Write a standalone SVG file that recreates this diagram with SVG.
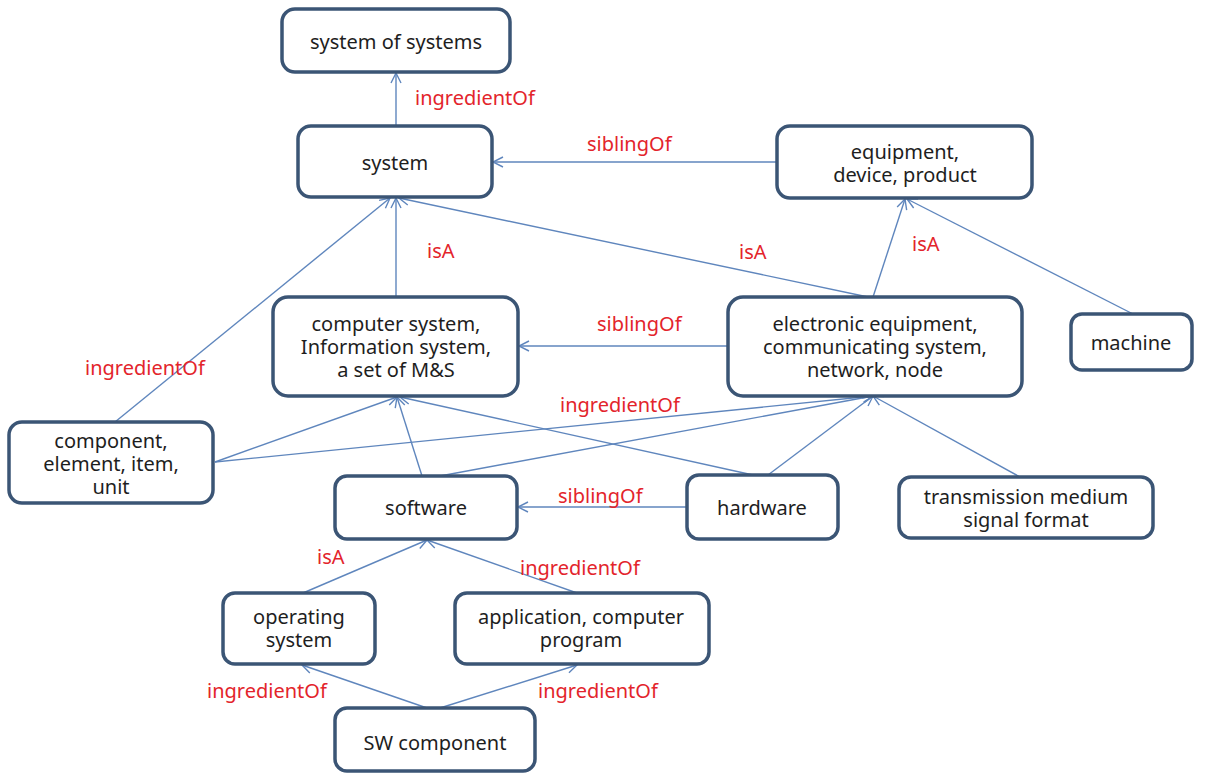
<svg xmlns="http://www.w3.org/2000/svg" width="1205" height="773" viewBox="0 0 1205 773">
<defs>
<style>
.box{fill:#ffffff;stroke:#3b5575;stroke-width:3.5}
.t{font-family:"Noto Sans","Open Sans",sans-serif;font-size:20px;fill:#1e1e1e;text-anchor:middle}
.lbl{font-family:"Noto Sans","Open Sans",sans-serif;font-size:20px;fill:#e3242b}
.c{stroke:#5f86bd;stroke-width:1.4;fill:none;marker-end:url(#ah)}
</style>
<marker id="ah" markerUnits="userSpaceOnUse" markerWidth="14" markerHeight="14" refX="11" refY="6" orient="auto">
<path d="M1,1 L11,6 L1,11" fill="none" stroke="#5f86bd" stroke-width="1.4"/>
</marker>
</defs>
<rect width="1205" height="773" fill="#ffffff"/>
<g id="connectors">
<line class="c" x1="396" y1="126" x2="396" y2="73"/>
<line class="c" x1="777" y1="162" x2="493" y2="162"/>
<line class="c" x1="868" y1="297" x2="399" y2="198"/>
<line class="c" x1="873" y1="297" x2="905" y2="199"/>
<line class="c" x1="1133" y1="314" x2="907" y2="199"/>
<line class="c" x1="396" y1="297" x2="396" y2="198"/>
<line class="c" x1="115" y1="422" x2="390" y2="198"/>
<line class="c" x1="728" y1="346" x2="519" y2="346"/>
<line class="c" x1="215" y1="462" x2="397" y2="397"/>
<line class="c" x1="215" y1="462" x2="873" y2="396"/>
<line class="c" x1="422" y1="476" x2="397" y2="397"/>
<line class="c" x1="440" y1="476" x2="873" y2="396"/>
<line class="c" x1="753" y1="475" x2="400" y2="397"/>
<line class="c" x1="768" y1="475" x2="873" y2="396"/>
<line class="c" x1="1020" y1="477" x2="873" y2="396"/>
<line class="c" x1="687" y1="507" x2="518" y2="507"/>
<line class="c" x1="303" y1="593" x2="427" y2="540"/>
<line class="c" x1="577" y1="593" x2="427" y2="540"/>
<line class="c" x1="427" y1="708" x2="302" y2="665"/>
<line class="c" x1="440" y1="708" x2="577" y2="665"/>
</g>
<g id="labels">
<text class="lbl" x="415" y="105">ingredientOf</text>
<text class="lbl" x="587" y="151">siblingOf</text>
<text class="lbl" x="739" y="259">isA</text>
<text class="lbl" x="912" y="251">isA</text>
<text class="lbl" x="427" y="258">isA</text>
<text class="lbl" x="85" y="375">ingredientOf</text>
<text class="lbl" x="597" y="331">siblingOf</text>
<text class="lbl" x="560" y="412">ingredientOf</text>
<text class="lbl" x="558" y="503">siblingOf</text>
<text class="lbl" x="317" y="564">isA</text>
<text class="lbl" x="520" y="575">ingredientOf</text>
<text class="lbl" x="207" y="698">ingredientOf</text>
<text class="lbl" x="538" y="698">ingredientOf</text>
</g>
<g id="n-sos"><rect class="box" x="282" y="9" width="228" height="63" rx="13"/><text class="t" x="396" y="49">system of systems</text></g>
<g id="n-system"><rect class="box" x="298" y="126" width="194" height="71" rx="13"/><text class="t" x="395" y="170">system</text></g>
<g id="n-equipment"><rect class="box" x="777" y="126" width="255" height="72" rx="13"/><text class="t" x="905" y="159">equipment,</text><text class="t" x="905" y="182">device, product</text></g>
<g id="n-computer"><rect class="box" x="273" y="297" width="245" height="99" rx="15"/><text class="t" x="396" y="331">computer system,</text><text class="t" x="396" y="354">Information system,</text><text class="t" x="396" y="377">a set of M&amp;S</text></g>
<g id="n-electronic"><rect class="box" x="728" y="297" width="294" height="99" rx="15"/><text class="t" x="875" y="331">electronic equipment,</text><text class="t" x="875" y="354">communicating system,</text><text class="t" x="875" y="377">network, node</text></g>
<g id="n-machine"><rect class="box" x="1071" y="314" width="121" height="56" rx="11"/><text class="t" x="1131" y="350">machine</text></g>
<g id="n-component"><rect class="box" x="9" y="422" width="204" height="81" rx="13"/><text class="t" x="111" y="448">component,</text><text class="t" x="111" y="471">element, item,</text><text class="t" x="111" y="494">unit</text></g>
<g id="n-software"><rect class="box" x="335" y="476" width="182" height="63" rx="12"/><text class="t" x="426" y="515">software</text></g>
<g id="n-hardware"><rect class="box" x="687" y="475" width="151" height="64" rx="12"/><text class="t" x="762" y="515">hardware</text></g>
<g id="n-transmission"><rect class="box" x="899" y="477" width="254" height="61" rx="12"/><text class="t" x="1026" y="504">transmission medium</text><text class="t" x="1026" y="527">signal format</text></g>
<g id="n-os"><rect class="box" x="223" y="593" width="152" height="71" rx="12"/><text class="t" x="299" y="624">operating</text><text class="t" x="299" y="647">system</text></g>
<g id="n-app"><rect class="box" x="455" y="593" width="254" height="71" rx="12"/><text class="t" x="581" y="624">application, computer</text><text class="t" x="581" y="647">program</text></g>
<g id="n-swcomp"><rect class="box" x="335" y="708" width="200" height="63" rx="12"/><text class="t" x="435" y="750">SW component</text></g>
</svg>
